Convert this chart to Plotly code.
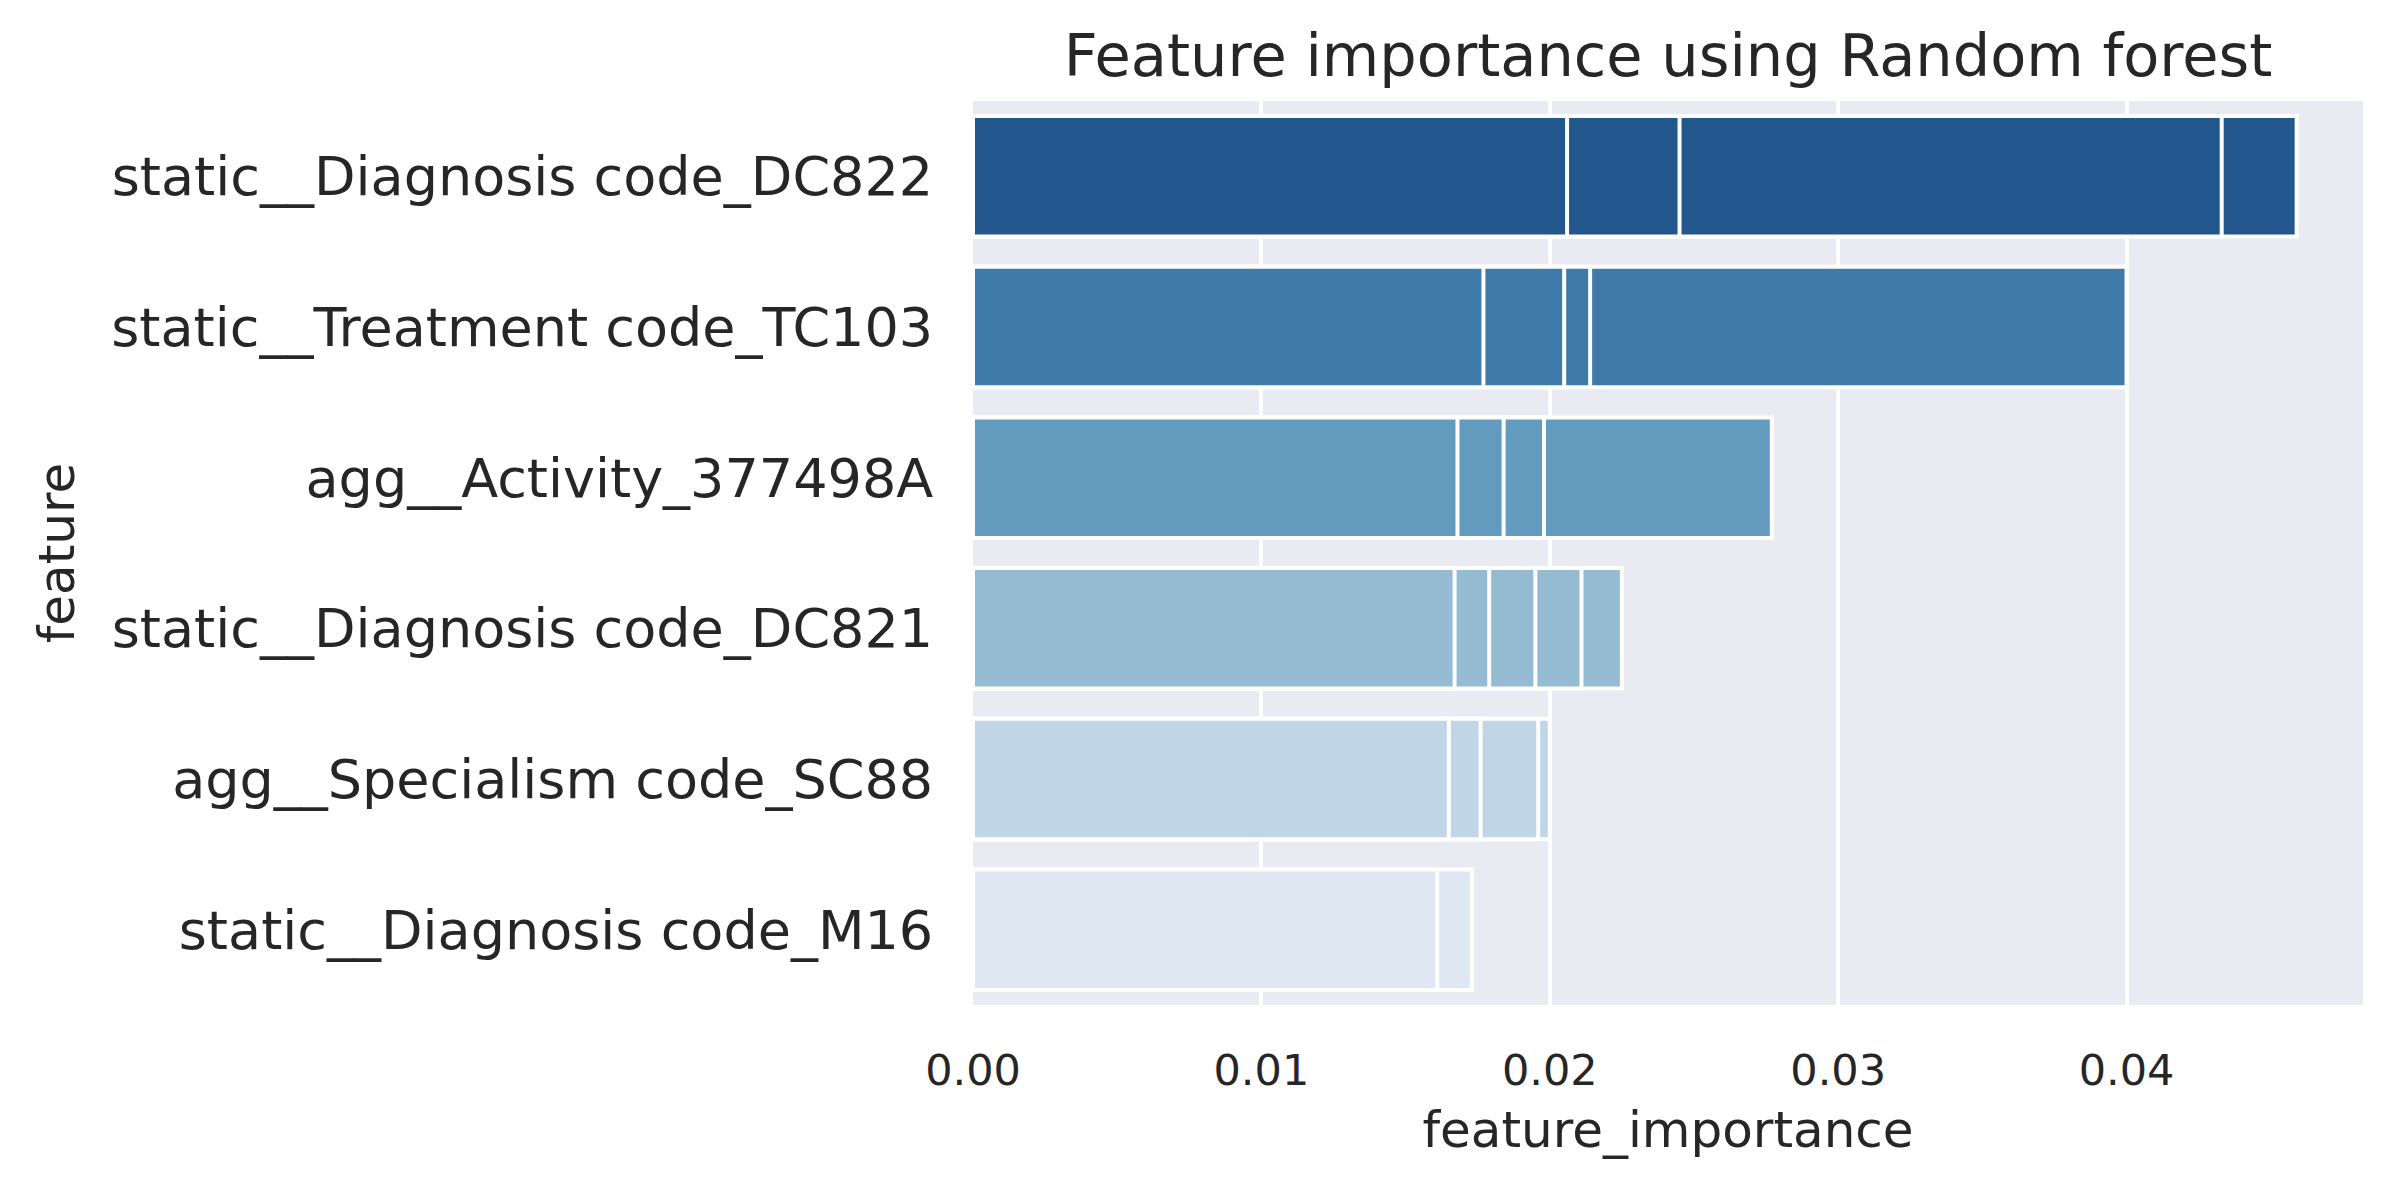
import plotly.graph_objects as go

features = [
    "static__Diagnosis code_DC822",
    "static__Treatment code_TC103",
    "agg__Activity_377498A",
    "static__Diagnosis code_DC821",
    "agg__Specialism code_SC88",
    "static__Diagnosis code_M16",
]
# per-run importance values for each feature (bars overlaid, longest drawn first)
dc822 = [0.0459, 0.0433, 0.0245, 0.0206]
tc103 = [0.0400, 0.0214, 0.0205, 0.0177]
act377498a = [0.0277, 0.0198, 0.0184, 0.0168]
dc821 = [0.0225, 0.0211, 0.0195, 0.0179, 0.0167]
sc88 = [0.0200, 0.0196, 0.0176, 0.0165]
m16 = [0.0173, 0.0161]
values = [dc822, tc103, act377498a, dc821, sc88, m16]
colors = ["#21578C", "#3E7BA9", "#639BBE", "#94BBD2", "#C0D6E6", "#DFE8F2"]
xticks = [0.00, 0.01, 0.02, 0.03, 0.04]

fig = go.Figure()
max_len = max(len(v) for v in values)
for k in range(max_len):
    ys, xs, cs = [], [], []
    for f, v, c in zip(features, values, colors):
        sv = sorted(v, reverse=True)
        if k < len(sv):
            ys.append(f)
            xs.append(sv[k])
            cs.append(c)
    fig.add_trace(go.Bar(
        x=xs, y=ys, orientation="h", width=0.8,
        marker=dict(color=cs, line=dict(color="white", width=4)),
        showlegend=False,
    ))

font_color = "#262626"
fig.update_layout(
    width=2395, height=1187,
    barmode="overlay",
    plot_bgcolor="#EAEAF2",
    paper_bgcolor="white",
    margin=dict(l=973, r=32, t=101, b=182),
    font=dict(family="DejaVu Sans", color=font_color),
    title=dict(text="Feature importance using Random forest", x=0.6965, xanchor="center",
               y=1 - 55 / 1187, yanchor="middle", font=dict(size=59, color=font_color)),
    xaxis=dict(
        range=[0, 0.0482], tickvals=xticks, tickformat=".2f",
        showgrid=True, gridcolor="white", gridwidth=4,
        zeroline=False, showline=False,
        tickfont=dict(size=43, color=font_color),
        ticks="outside", ticklen=27, tickcolor="rgba(0,0,0,0)",
        title=dict(text="feature_importance", font=dict(size=50, color=font_color), standoff=18),
    ),
    yaxis=dict(
        categoryorder="array", categoryarray=features, autorange="reversed",
        showgrid=False, zeroline=False, showline=False,
        tickfont=dict(size=54, color=font_color),
        ticks="outside", ticklen=28, tickcolor="rgba(0,0,0,0)",
        title=dict(text="feature", font=dict(size=50, color=font_color), standoff=20),
    ),
)
fig.write_html("out.html")
